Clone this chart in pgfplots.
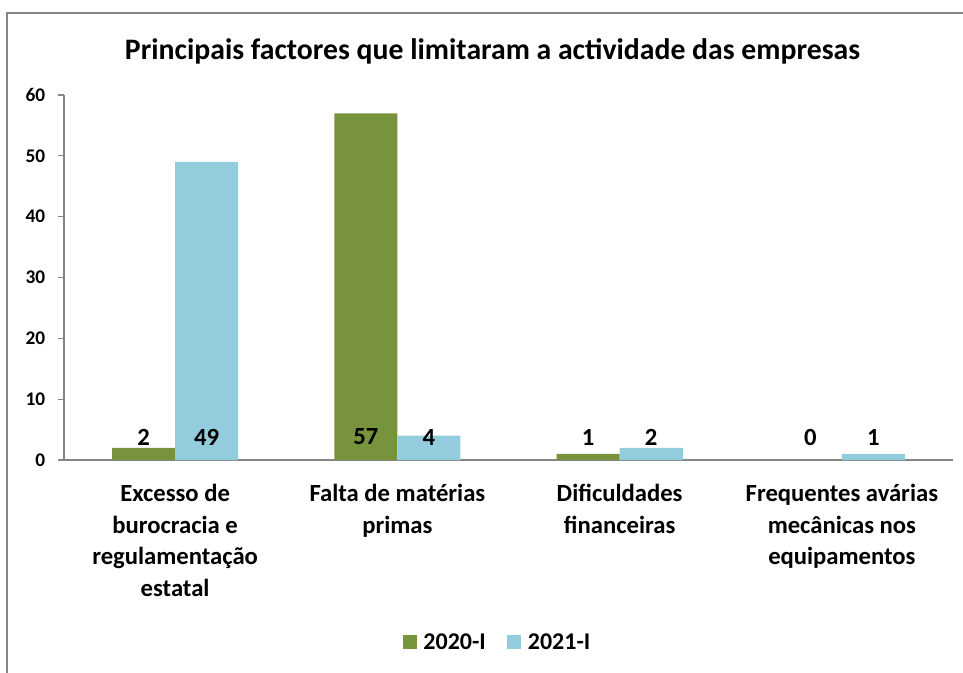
\documentclass[border=0pt]{standalone}
\usepackage{pgfplots}
\pgfplotsset{compat=1.18}
\usepackage{fontspec}
\setmainfont{Carlito}
\definecolor{cgreen}{HTML}{77933C}
\definecolor{cblue}{HTML}{93CDDD}
\definecolor{axgray}{HTML}{868686}
\begin{document}
\begin{tikzpicture}
\useasboundingbox (0,0) rectangle (722.25pt,504pt);
\draw[axgray, line width=0.9pt] (5.25pt,-2pt) -- (5.25pt,494.25pt) -- (725pt,494.25pt);
\node[anchor=base, font=\fontsize{22.3}{26}\selectfont\bfseries] at (369.4pt,459pt) {Principais factores que limitaram a actividade das empresas};
\begin{axis}[
  at={(48pt,159pt)}, anchor=south west,
  scale only axis, width=666.75pt, height=273.75pt,
  xmin=-0.5, xmax=3.5, ymin=0, ymax=60,
  axis lines*=left, axis line style={-, axgray, line width=0.9pt},
  ytick={0,10,...,60},
  tick align=outside,
  major tick length=4.5pt,
  ytick style={axgray, line width=0.9pt},
  xtick={0,1,2,3},
  xtick style={draw=none},
  minor xtick={-0.5,0.5,1.5,2.5,3.5},
  minor tick length=5pt,
  minor x tick style={axgray, line width=0.9pt},
  xticklabels={{Excesso de\\burocracia e\\regulamentação\\estatal},{Falta de matérias\\primas},{Dificuldades\\financeiras},{Frequentes avárias\\mecânicas nos\\equipamentos}},
  xticklabel style={align=center, anchor=north, yshift=-10pt, font=\fontsize{18.5}{23.8}\selectfont\bfseries},
  yticklabel style={anchor=east, xshift=-6pt, font=\fontsize{14.5}{16}\selectfont\bfseries},
  /pgf/number format/assume math mode=true,
  legend columns=2,
  legend style={at={(0.488,-0.499)}, anchor=center, draw=none, fill=none,
    font=\fontsize{18}{21}\selectfont\bfseries,
    /tikz/every odd column/.append style={column sep=3pt},
    /tikz/every even column/.append style={column sep=14pt},
    inner sep=0pt},
  legend image code/.code={\path[#1, draw=none] (0pt,-5.25pt) rectangle (10.5pt,5.25pt);},
  clip=false,
]
\addplot[ybar, bar width=0.284, bar shift=-0.142, fill=cgreen, draw=none] coordinates {(0,2) (1,57) (2,1) (3,0)};
\addlegendentry{2020-I}
\addplot[ybar, bar width=0.284, bar shift=0.142, fill=cblue, draw=none] coordinates {(0,49) (1,4) (2,2) (3,1)};
\addlegendentry{2021-I}
\addplot[draw=none, forget plot, nodes near coords, point meta=explicit symbolic,
  every node near coord/.style={anchor=center, font=\fontsize{18.5}{22}\selectfont\bfseries}]
  coordinates {(-0.142,3.78)[2] (0.142,3.78)[49] (0.858,3.78)[57] (1.142,3.78)[4] (1.858,3.78)[1] (2.142,3.78)[2] (2.858,3.78)[0] (3.142,3.78)[1]};
\end{axis}
\end{tikzpicture}
\end{document}
